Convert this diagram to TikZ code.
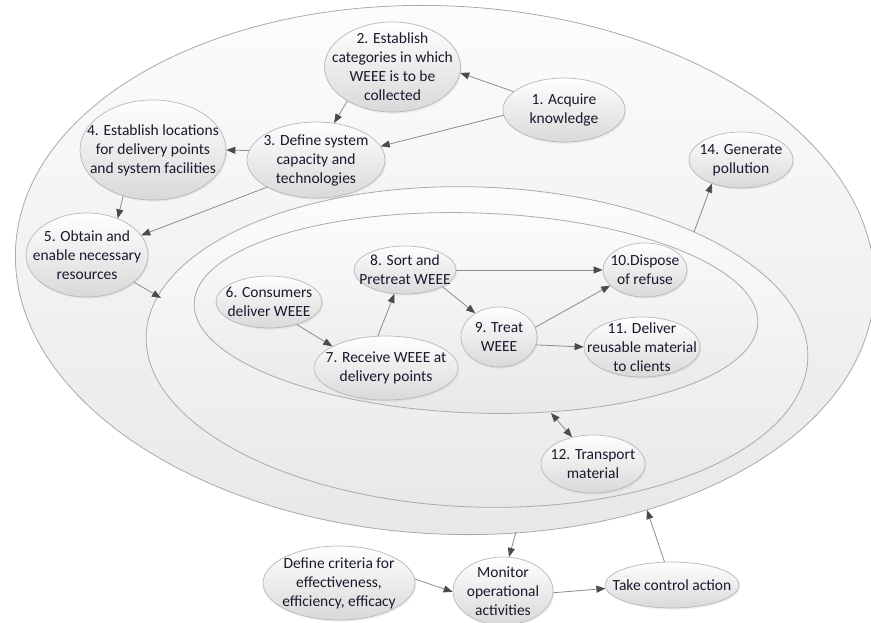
\documentclass[tikz,border=0pt]{standalone}
\usepackage{fontspec}
\setmainfont{Carlito}
\usetikzlibrary{arrows.meta,shapes.geometric,shadows}
\definecolor{txt}{RGB}{25,25,45}
\definecolor{ringline}{RGB}{170,170,170}
\definecolor{arrline}{RGB}{140,140,140}
\definecolor{arrhead}{RGB}{75,75,75}
\begin{document}
\begin{tikzpicture}[x=1pt,y=1pt,
  lbl/.style={align=center, inner sep=0pt, text=txt, font=\fontsize{15.5}{19}\selectfont},
  bubble/.style={ellipse, draw=black!28, line width=0.7pt, top color=white, bottom color=black!15,
    inner sep=0pt, drop shadow={opacity=0.12, shadow xshift=1.2pt, shadow yshift=-1.6pt}},
  sz/.style 2 args={minimum width=#1, minimum height=#2},
  ring/.style={draw=ringline, line width=0.8pt, top color=black!1, bottom color=black!9},
  arr/.style={draw=arrline, line width=0.8pt, -{Triangle[length=9pt,width=7pt,color=arrhead]}},
  darr/.style={draw=arrline, line width=0.8pt, {Triangle[length=9pt,width=7pt,color=arrhead]}-{Triangle[length=9pt,width=7pt,color=arrhead]}},
]
\useasboundingbox (0,0) rectangle (871,-622);
\fill[white] (0,0) rectangle (871,-622);

% nested system boundaries
\path[ring, rotate around={-3:(445,-270)}] (445,-270) ellipse [x radius=430pt, y radius=264pt];
\path[ring, rotate around={-2:(477,-347)}] (477,-347) ellipse [x radius=331pt, y radius=160pt];
\path[ring, rotate around={-2:(476,-313)}] (476,-313) ellipse [x radius=282pt, y radius=100pt];

% points on the boundaries
\coordinate (c5m) at (161,-298);
\coordinate (c14) at (694,-232);
\coordinate (cin) at (551,-413);
\coordinate (cout1) at (516,-532);
\coordinate (cout2) at (647,-510);

% activities
\node[bubble, sz={122pt}{64pt}, label={[lbl]center:{1. Acquire\\knowledge}}] (n1) at (564,-110) {};
\node[bubble, sz={136pt}{90pt}, label={[lbl]center:{2. Establish\\categories in which\\WEEE is to be\\collected}}] (n2) at (392.5,-67) {};
\node[bubble, sz={138pt}{76pt}, label={[lbl]center:{3. Define system\\capacity and\\technologies}}] (n3) at (316,-160) {};
\node[bubble, sz={146pt}{100pt}, label={[lbl]center:{4. Establish locations\\for delivery points\\and system facilities}}] (n4) at (153,-150) {};
\node[bubble, sz={122pt}{84pt}, label={[lbl]center:{5. Obtain and\\enable necessary\\resources}}] (n5) at (87,-255) {};
\node[bubble, sz={104pt}{56pt}, label={[lbl]center:{14. Generate\\pollution}}] (n14) at (741,-160) {};
\node[bubble, sz={102pt}{48pt}, label={[lbl]center:{8. Sort and\\Pretreat WEEE}}] (n8) at (405,-270) {};
\node[bubble, sz={84pt}{54pt}, label={[lbl]center:{10.Dispose\\of refuse}}] (n10) at (645,-270) {};
\node[bubble, sz={106pt}{52pt}, label={[lbl]center:{6. Consumers\\deliver WEEE}}] (n6) at (269,-302) {};
\node[bubble, sz={144pt}{64pt}, label={[lbl]center:{7. Receive WEEE at\\delivery points}}] (n7) at (386,-368) {};
\node[bubble, sz={76pt}{60pt}, label={[lbl]center:{9. Treat\\WEEE}}] (n9) at (499,-337) {};
\node[bubble, sz={116pt}{60pt}, label={[lbl]center:{11. Deliver\\reusable material\\to clients}}] (n11) at (642,-347) {};
\node[bubble, sz={104pt}{58pt}, label={[lbl]center:{12. Transport\\material}}] (n12) at (593,-464) {};
\node[bubble, sz={152pt}{74pt}, label={[lbl]center:{Define criteria for\\effectiveness,\\efficiency, efficacy}}] (nd) at (339,-583) {};
\node[bubble, sz={100pt}{68pt}, label={[lbl]center:{Monitor\\operational\\activities}}] (nm) at (503,-591) {};
\node[bubble, sz={134pt}{46pt}, label={[lbl]center:{Take control action}}] (nt) at (672,-585) {};

% connectors
\draw[arr] (n1.160) -- (n2.-5);
\draw[arr] (n1.185) -- (n3.12);
\draw[arr] (n2.217) -- (n3.64);
\draw[arr] (n3.172) -- (n4.0);
\draw[arr] (n4.237) -- (n5.50);
\draw[arr] (n3.209) -- (n5.20);
\draw[arr] (n5.-30) -- (c5m);
\draw[arr] (c14) -- (n14.219);
\draw[arr] (n6.-39) -- (n7.158);
\draw[arr] (n7.104) -- (n8.246);
\draw[arr] (n8.-24) -- (n9.135);
\draw[arr] (n8.east) -- (n10.west);
\draw[arr] (n9.15) -- (n10.204);
\draw[arr] (n9.-12) -- (n11.180);
\draw[darr] (cin) -- (n12.128);
\draw[arr] (cout1) -- (nm.80);
\draw[arr] (nd.3) -- (nm.181);
\draw[arr] (nm.-2) -- (nt.183);
\draw[arr] (nt.108) -- (cout2);
\end{tikzpicture}
\end{document}
